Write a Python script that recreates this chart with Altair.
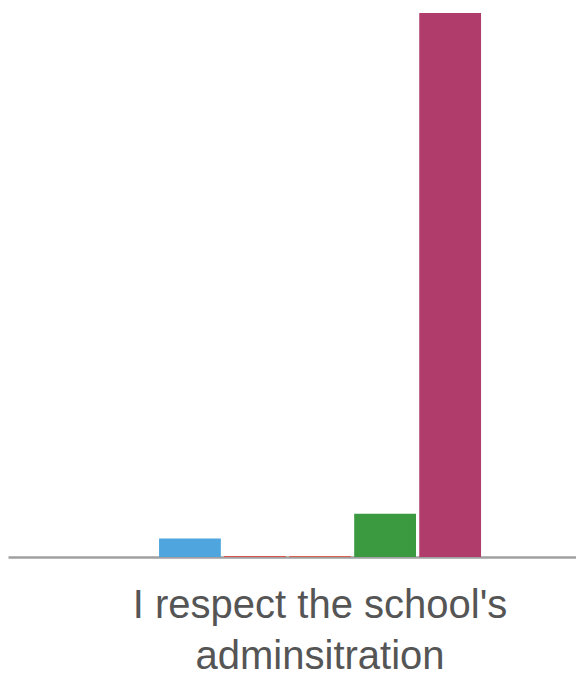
import altair as alt
import pandas as pd

categories = ["I respect the school's adminsitration"]
series = ["Strongly disagree", "Disagree", "Neutral", "Agree", "Strongly agree"]
values = [3.0, 0.15, 0.15, 7.0, 88.0]
colors = ["#4fa6de", "#d9564f", "#d9604f", "#3b9a40", "#b03c6b"]

df = pd.DataFrame({
    "category": [categories[0]] * len(series),
    "series": series,
    "value": values,
})

chart = alt.Chart(df).mark_bar().encode(
    x=alt.X("category:N",
            scale=alt.Scale(paddingInner=0, paddingOuter=0.382, align=0.614),
            axis=alt.Axis(title=None, labelAngle=0, ticks=False, tickSize=0,
                          labelPadding=28, labelFontSize=40, labelFont="Liberation Sans",
                          labelColor="#555555", labelLineHeight=51, labelLimit=0,
                          domainColor="#a0a0a0", domainWidth=2.5,
                          labelExpr="[\"I respect the school's\", 'adminsitration']")),
    xOffset=alt.XOffset("series:N", sort=series,
                        scale=alt.Scale(paddingInner=0.05, paddingOuter=0)),
    y=alt.Y("value:Q", scale=alt.Scale(domain=[0, 88.8], nice=False),
            axis=None),
    color=alt.Color("series:N", sort=series,
                    scale=alt.Scale(domain=series, range=colors), legend=None),
).properties(
    width=568, height=549,
    padding={"left": 0, "top": 0, "right": 0, "bottom": 0},
).configure_view(stroke=None).configure_axis(grid=False)

chart.save("out.html", embed_options={"renderer": "svg", "actions": False})
